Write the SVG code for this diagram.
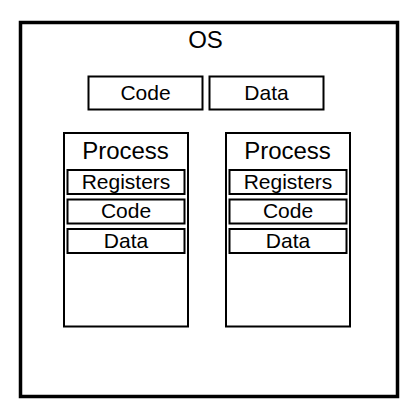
<svg xmlns="http://www.w3.org/2000/svg" width="420" height="419" viewBox="0 0 420 419">
<style>
.box{fill:#fff;stroke:#000;stroke-width:2}
.t{font-family:"Liberation Sans",Arial,sans-serif;fill:#000;text-anchor:middle}
.big{font-size:24px}
.sm{font-size:21px}
</style>
<rect width="420" height="419" fill="#fff"/>
<g id="os">
<rect x="20.5" y="22.5" width="377" height="374" fill="#fff" stroke="#000" stroke-width="3.5"/>
<text class="t big" x="205.5" y="47.5">OS</text>
</g>
<g id="os-code">
<rect class="box" x="88.5" y="76.5" width="114" height="33" stroke-width="1.5"/>
<text class="t sm" x="145.5" y="100">Code</text>
</g>
<g id="os-data">
<rect class="box" x="209.5" y="76.5" width="114" height="33" stroke-width="1.5"/>
<text class="t sm" x="266.5" y="100">Data</text>
</g>
<g id="process1">
<rect class="box" x="64" y="133" width="124" height="193.5"/>
<text class="t big" x="125.5" y="159">Process</text>
<g id="p1-registers">
<rect class="box" x="67.5" y="170" width="117" height="24"/>
<text class="t sm" x="126" y="189">Registers</text>
</g>
<g id="p1-code">
<rect class="box" x="67.5" y="199.5" width="117" height="24"/>
<text class="t sm" x="126" y="218">Code</text>
</g>
<g id="p1-data">
<rect class="box" x="67.5" y="229" width="117" height="24"/>
<text class="t sm" x="126" y="248">Data</text>
</g>
</g>
<g id="process2">
<rect class="box" x="226" y="133" width="124" height="193.5"/>
<text class="t big" x="287.5" y="159">Process</text>
<g id="p2-registers">
<rect class="box" x="229.5" y="170" width="117" height="24"/>
<text class="t sm" x="288" y="189">Registers</text>
</g>
<g id="p2-code">
<rect class="box" x="229.5" y="199.5" width="117" height="24"/>
<text class="t sm" x="288" y="218">Code</text>
</g>
<g id="p2-data">
<rect class="box" x="229.5" y="229" width="117" height="24"/>
<text class="t sm" x="288" y="248">Data</text>
</g>
</g>
<g id="connectors"/>
</svg>
